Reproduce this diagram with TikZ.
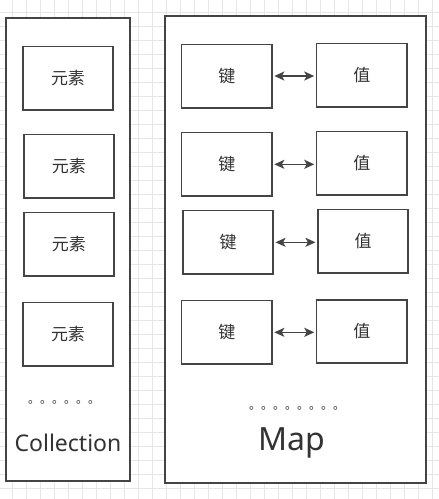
\documentclass[tikz,border=0pt]{standalone}
\usepackage{fontspec}
\setmainfont{Noto Sans CJK SC}
\newfontfamily\latinfont{Noto Sans}
\usetikzlibrary{arrows.meta}
\definecolor{linec}{HTML}{444444}
\definecolor{textc}{HTML}{333333}
\definecolor{gridc}{HTML}{E6E6E6}
\tikzset{
  cell/.style={draw=linec, line width=1.6pt, fill=white, inner sep=0pt,
    minimum width=90.5pt, minimum height=63.4pt, text=textc, font=\fontsize{17}{17}\selectfont},
  outer/.style={draw=linec, line width=1.6pt, fill=white, inner sep=0pt},
  link/.style={draw=linec, line width=1.5pt, {Stealth[length=10pt,width=9pt,inset=2.5pt]}-{Stealth[length=10pt,width=9pt,inset=2.5pt]}},
  dots/.style={text=textc, inner sep=0pt, font=\fontsize{12}{12}\selectfont},
  title/.style={text=textc, inner sep=0pt},
}
\begin{document}
\begin{tikzpicture}[x=1pt,y=-1pt]
\useasboundingbox (0,0) rectangle (439,499);
\fill[white] (0,0) rectangle (439,499);
% grid
\foreach \k in {0,...,31} {
  \draw[gridc, line width=0.8pt] ({12.7+14*\k},0) -- ({12.7+14*\k},499);
}
\foreach \k in {0,...,35} {
  \draw[gridc, line width=0.8pt] (0,{12.7+14*\k}) -- (439,{12.7+14*\k});
}
% Collection
\node[outer, minimum width=124pt, minimum height=463pt] (coll) at (68,249.5) {};
\node[cell] (e1) at (68,78.3) {元素};
\node[cell] (e2) at (69,166.3) {元素};
\node[cell] (e3) at (69,244.2) {元素};
\node[cell] (e4) at (68,334.3) {元素};
\node[dots] (cdots) at (64,402) {。。。。。。};
\node[title, font=\latinfont\fontsize{23}{23}\selectfont] (ctitle) at (68,443) {Collection};
% Map
\node[outer, line width=1.8pt, minimum width=261pt, minimum height=467pt] (map) at (295.5,249.5) {};
\node[cell] (k1) at (226.8,76) {键};
\node[cell] (v1) at (361.8,75.2) {值};
\node[cell] (k2) at (226.8,164.3) {键};
\node[cell] (v2) at (361.8,163.3) {值};
\node[cell] (k3) at (228,242.3) {键};
\node[cell] (v3) at (363,241.3) {值};
\node[cell] (k4) at (226.8,332.3) {键};
\node[cell] (v4) at (361.8,331.5) {值};
\foreach \i in {1,2,3,4} {
  \draw[link] ([xshift=1.5pt]k\i.east) -- ([xshift=-1.5pt]k\i.east -| v\i.west);
}
\node[dots] (mdots) at (297,408) {。。。。。。。。};
\node[title, font=\latinfont\fontsize{32}{32}\selectfont] (mtitle) at (292,443) {Map};
\end{tikzpicture}
\end{document}
